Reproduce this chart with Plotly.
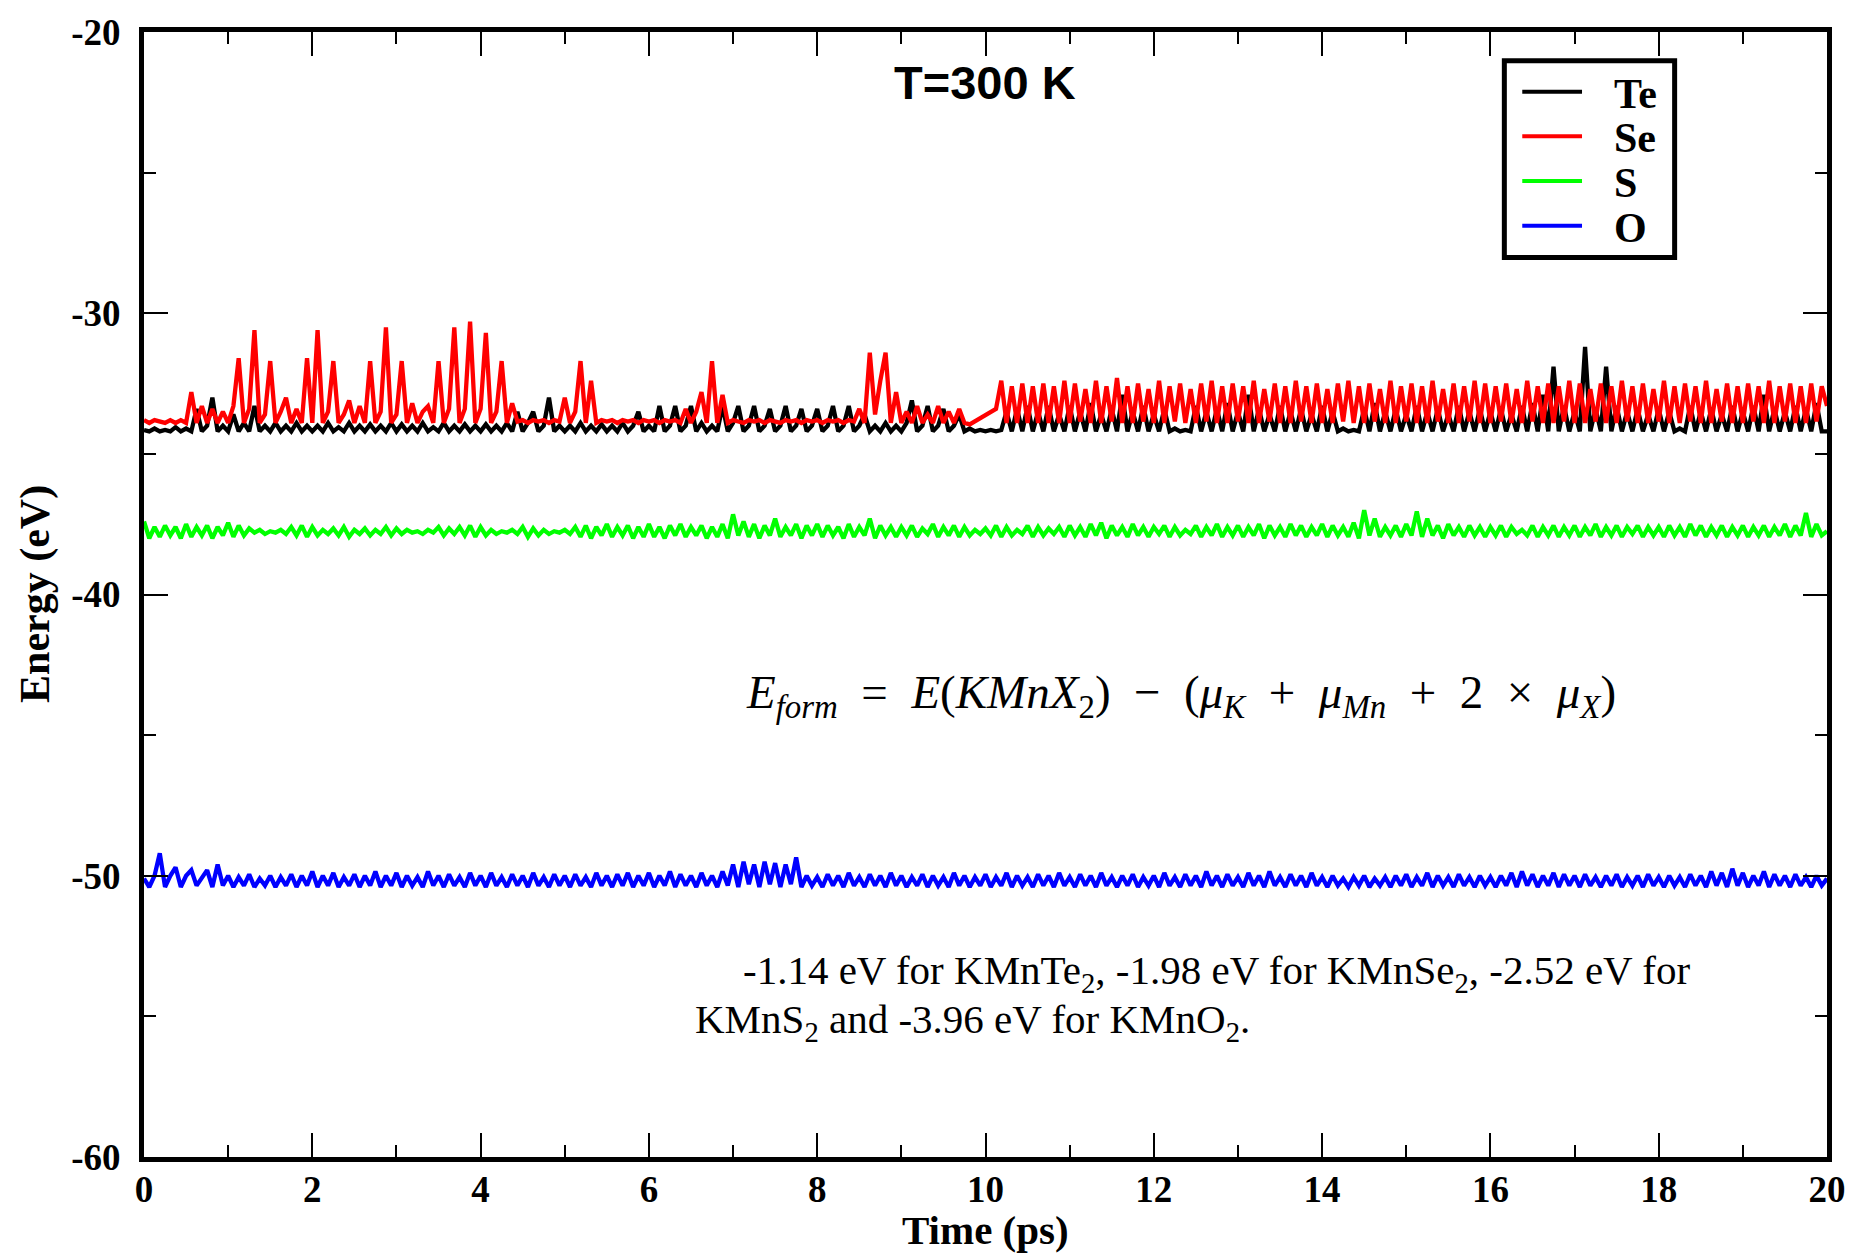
import plotly.graph_objects as go

DT = 0.0625  # ps between samples

SERIES_NAMES = ["Te", "Se", "S", "O"]
SERIES_COLORS = ["#000000", "#ff0000", "#00ff00", "#0000ff"]

# Energies (eV), one row per picosecond (16 samples each)
te_energy = [
    -34.15, -34.2, -34.1, -34.2, -34.15, -34.2, -34.05, -34.2, -34.1, -34.2, -33.4, -34.2, -34.0, -33.0, -34.2, -34.0,
    -34.2, -33.6, -34.2, -33.9, -34.2, -33.3, -34.2, -34.0, -34.2, -33.9, -34.2, -34.0, -34.2, -33.9, -34.2, -34.0,
    -34.2, -34.0, -34.2, -33.9, -34.2, -34.05, -34.2, -33.9, -34.2, -34.0, -34.2, -33.95, -34.2, -34.0, -34.2, -33.9,
    -34.2, -33.95, -34.2, -34.0, -34.2, -33.9, -34.2, -34.05, -34.2, -33.9, -34.2, -34.0, -34.2, -33.95, -34.2, -34.0,
    -34.2, -33.95, -34.2, -34.0, -34.2, -33.9, -34.2, -33.5, -34.2, -33.9, -33.5, -34.2, -34.0, -33.0, -34.2, -34.0,
    -34.2, -34.0, -34.2, -33.9, -34.2, -34.0, -34.2, -33.95, -34.2, -34.0, -34.2, -33.9, -34.2, -34.0, -33.5, -34.2,
    -34.0, -34.2, -33.3, -34.2, -34.0, -33.3, -34.2, -34.0, -33.3, -34.2, -33.9, -34.2, -34.0, -34.2, -33.3, -34.2,
    -33.9, -33.3, -34.2, -34.0, -33.3, -34.2, -34.0, -33.4, -34.2, -34.0, -33.3, -34.2, -34.0, -33.4, -34.2, -34.0,
    -33.4, -34.2, -34.0, -33.3, -34.2, -34.0, -33.3, -34.2, -34.0, -33.6, -34.2, -34.0, -34.2, -33.9, -34.2, -34.0,
    -34.2, -33.9, -33.1, -34.2, -34.0, -33.3, -34.2, -34.0, -33.4, -34.2, -34.0, -33.6, -34.2, -34.1, -34.2, -34.15,
    -34.2, -34.15, -34.2, -34.15, -33.5, -34.2, -33.4, -34.2, -33.3, -34.2, -33.5, -34.2, -33.3, -34.2, -33.6, -34.2,
    -33.3, -34.2, -33.5, -34.2, -33.2, -34.2, -33.6, -34.2, -33.4, -34.2, -32.9, -34.2, -33.5, -34.2, -33.3, -34.2,
    -33.6, -34.2, -33.4, -34.2, -34.1, -34.2, -34.15, -34.2, -33.3, -34.2, -33.5, -34.2, -33.4, -34.2, -33.2, -34.2,
    -33.5, -34.2, -32.9, -34.2, -33.4, -34.2, -33.6, -34.2, -33.3, -34.2, -33.5, -34.2, -33.4, -34.2, -33.6, -34.2,
    -33.3, -34.2, -33.5, -34.2, -34.1, -34.2, -34.15, -34.2, -33.4, -34.2, -33.2, -34.2, -33.5, -34.2, -33.4, -34.2,
    -33.6, -34.2, -33.3, -34.2, -33.5, -34.2, -33.4, -34.2, -33.6, -34.2, -33.3, -34.2, -33.5, -34.2, -33.4, -34.2,
    -33.5, -34.2, -33.4, -34.2, -33.6, -34.2, -33.3, -34.2, -33.2, -34.2, -32.9, -34.2, -31.9, -34.2, -33.3, -34.2,
    -33.5, -34.2, -31.2, -34.2, -33.4, -34.2, -31.9, -34.2, -33.3, -34.2, -33.5, -34.2, -33.4, -34.2, -33.6, -34.2,
    -33.4, -34.2, -33.5, -34.2, -34.1, -34.2, -33.3, -34.2, -33.5, -34.2, -33.4, -34.2, -33.6, -34.2, -33.3, -34.2,
    -33.5, -34.2, -33.3, -34.2, -32.9, -34.2, -33.4, -34.2, -33.5, -34.2, -33.3, -34.2, -33.4, -34.2, -33.2, -34.2,
    -34.2,
]

se_energy = [
    -33.8, -33.9, -33.8, -33.85, -33.9, -33.8, -33.9, -33.8, -33.9, -32.8, -33.9, -33.3, -33.9, -33.4, -33.9, -33.5,
    -33.9, -33.3, -31.6, -33.9, -33.4, -30.6, -33.9, -33.6, -31.7, -33.9, -33.5, -33.0, -33.9, -33.4, -33.9, -31.6,
    -33.9, -30.6, -33.9, -33.5, -31.7, -33.9, -33.6, -33.1, -33.9, -33.3, -33.9, -31.7, -33.9, -33.5, -30.5, -33.9,
    -33.6, -31.7, -33.9, -33.2, -33.9, -33.5, -33.3, -33.9, -31.7, -33.9, -33.4, -30.5, -33.9, -33.4, -30.3, -33.9,
    -33.4, -30.7, -33.9, -33.5, -31.7, -33.9, -33.2, -33.85, -33.8, -33.9, -33.8, -33.85, -33.8, -33.9, -33.8, -33.85,
    -33.0, -33.9, -33.5, -31.7, -33.9, -32.4, -33.9, -33.8, -33.85, -33.8, -33.9, -33.8, -33.85, -33.8, -33.9, -33.8,
    -33.85, -33.8, -33.9, -33.8, -33.85, -33.8, -33.9, -33.4, -33.9, -33.5, -32.8, -33.9, -31.7, -33.9, -32.9, -33.9,
    -33.8, -33.85, -33.9, -33.8, -33.85, -33.8, -33.9, -33.8, -33.85, -33.9, -33.8, -33.85, -33.8, -33.9, -33.8, -33.85,
    -33.8, -33.9, -33.8, -33.85, -33.8, -33.9, -33.8, -33.85, -33.4, -33.9, -31.4, -33.6, -32.4, -31.4, -33.9, -32.8,
    -33.9, -33.5, -33.9, -33.3, -33.9, -33.6, -33.9, -33.3, -33.9, -33.5, -33.9, -33.4, -33.9, -33.95, None, None,
    None, None, -33.4, -32.4, -33.9, -32.6, -33.9, -32.5, -33.9, -32.6, -33.9, -32.5, -33.9, -32.6, -33.9, -32.4,
    -33.9, -32.5, -33.85, -32.7, -33.9, -32.4, -33.9, -32.6, -33.85, -32.3, -33.9, -32.6, -33.9, -32.5, -33.85, -32.7,
    -33.9, -32.4, -33.9, -32.6, -33.85, -32.5, -33.9, -32.7, -33.9, -32.5, -33.85, -32.4, -33.9, -32.6, -33.9, -32.5,
    -33.85, -32.6, -33.9, -32.4, -33.9, -32.7, -33.85, -32.5, -33.9, -32.6, -33.9, -32.4, -33.85, -32.6, -33.9, -32.5,
    -33.9, -32.7, -33.9, -32.5, -33.85, -32.4, -33.9, -32.6, -33.9, -32.5, -33.85, -32.7, -33.9, -32.4, -33.9, -32.6,
    -33.85, -32.5, -33.9, -32.6, -33.9, -32.4, -33.85, -32.7, -33.9, -32.5, -33.9, -32.6, -33.85, -32.4, -33.9, -32.5,
    -33.9, -32.6, -33.85, -32.5, -33.9, -32.7, -33.9, -32.4, -33.85, -32.6, -33.9, -32.5, -33.9, -32.6, -33.85, -32.4,
    -33.9, -32.5, -33.9, -32.7, -33.85, -32.5, -33.9, -32.6, -33.9, -32.4, -33.85, -32.6, -33.9, -32.5, -33.9, -32.7,
    -33.85, -32.4, -33.9, -32.6, -33.9, -32.5, -33.85, -32.6, -33.9, -32.4, -33.9, -32.7, -33.85, -32.5, -33.9, -32.6,
    -33.9, -32.5, -33.85, -32.6, -33.9, -32.4, -33.9, -32.6, -33.85, -32.5, -33.9, -32.6, -33.9, -32.5, -33.85, -32.6,
    -33.3,
]

s_energy = [
    -37.4, -38.0, -37.6, -37.95, -37.55, -37.9, -37.6, -38.0, -37.5, -37.95, -37.6, -37.9, -37.55, -38.0, -37.6, -37.9,
    -37.45, -37.95, -37.55, -37.9, -37.65, -37.8, -37.7, -37.85, -37.75, -37.8, -37.7, -37.85, -37.6, -37.9, -37.55, -37.95,
    -37.6, -37.9, -37.7, -37.85, -37.65, -37.9, -37.6, -37.95, -37.7, -37.85, -37.65, -37.9, -37.7, -37.85, -37.6, -37.9,
    -37.65, -37.85, -37.7, -37.8, -37.75, -37.85, -37.7, -37.8, -37.6, -37.9, -37.65, -37.85, -37.6, -37.9, -37.55, -37.95,
    -37.6, -37.9, -37.7, -37.85, -37.75, -37.8, -37.7, -37.85, -37.6, -37.95, -37.65, -37.9, -37.7, -37.85, -37.75, -37.8,
    -37.7, -37.85, -37.6, -37.95, -37.55, -38.0, -37.6, -37.9, -37.5, -37.95, -37.6, -37.9, -37.55, -38.0, -37.6, -37.95,
    -37.5, -37.95, -37.6, -38.0, -37.55, -37.9, -37.5, -37.95, -37.6, -37.9, -37.55, -38.0, -37.6, -37.95, -37.5, -38.0,
    -37.15, -37.9, -37.4, -37.95, -37.5, -38.0, -37.55, -37.9, -37.3, -37.95, -37.6, -37.9, -37.5, -38.0, -37.55, -37.9,
    -37.5, -37.95, -37.55, -37.9, -37.6, -38.0, -37.5, -37.95, -37.6, -37.9, -37.3, -38.0, -37.55, -37.9, -37.6, -37.95,
    -37.6, -37.9, -37.55, -37.95, -37.65, -37.85, -37.5, -37.95, -37.6, -37.9, -37.55, -37.95, -37.6, -37.9, -37.7, -37.85,
    -37.65, -37.9, -37.55, -37.95, -37.6, -37.9, -37.7, -37.85, -37.55, -37.95, -37.6, -37.9, -37.65, -37.85, -37.6, -37.95,
    -37.55, -37.9, -37.6, -37.95, -37.5, -37.9, -37.45, -38.0, -37.55, -37.9, -37.6, -37.95, -37.5, -37.9, -37.6, -37.95,
    -37.6, -37.85, -37.55, -37.95, -37.6, -37.9, -37.7, -37.85, -37.55, -37.95, -37.6, -37.9, -37.5, -37.95, -37.6, -37.9,
    -37.55, -37.95, -37.6, -37.9, -37.5, -38.0, -37.55, -37.9, -37.6, -37.95, -37.5, -37.9, -37.55, -37.95, -37.6, -37.9,
    -37.5, -37.95, -37.55, -37.9, -37.6, -37.95, -37.45, -38.0, -37.0, -37.9, -37.3, -37.95, -37.6, -37.9, -37.55, -37.95,
    -37.5, -37.9, -37.05, -37.95, -37.3, -37.9, -37.55, -38.0, -37.5, -37.9, -37.6, -37.95, -37.55, -37.9, -37.6, -37.95,
    -37.6, -37.9, -37.55, -37.95, -37.6, -37.85, -37.7, -37.9, -37.55, -37.95, -37.6, -37.9, -37.55, -37.95, -37.6, -37.9,
    -37.55, -37.95, -37.6, -37.9, -37.5, -37.95, -37.6, -37.9, -37.55, -37.95, -37.6, -37.85, -37.55, -37.95, -37.6, -37.9,
    -37.6, -37.95, -37.55, -37.9, -37.6, -37.95, -37.5, -37.9, -37.55, -37.95, -37.6, -37.9, -37.55, -37.95, -37.6, -37.9,
    -37.55, -37.95, -37.6, -37.9, -37.55, -37.95, -37.6, -37.9, -37.5, -37.95, -37.55, -37.9, -37.1, -37.95, -37.5, -37.9,
    -37.75,
]

o_energy = [
    -50.1, -50.4, -50.0, -49.2, -50.4, -50.0, -49.7, -50.4, -50.0, -49.8, -50.35, -50.05, -49.8, -50.4, -49.6, -50.35,
    -50.0, -50.4, -50.05, -50.35, -49.95, -50.4, -50.1, -50.35, -50.0, -50.4, -50.05, -50.35, -49.95, -50.4, -50.0, -50.35,
    -49.85, -50.4, -50.0, -50.35, -49.9, -50.4, -50.05, -50.35, -49.95, -50.4, -50.0, -50.35, -49.85, -50.4, -50.0, -50.35,
    -49.9, -50.4, -50.0, -50.35, -50.05, -50.4, -49.85, -50.35, -50.0, -50.4, -49.95, -50.35, -50.05, -50.4, -49.9, -50.35,
    -50.0, -50.4, -49.9, -50.35, -50.05, -50.4, -49.95, -50.35, -50.0, -50.4, -49.9, -50.35, -50.05, -50.4, -49.95, -50.35,
    -50.0, -50.4, -49.95, -50.35, -50.05, -50.4, -49.9, -50.35, -50.0, -50.4, -49.95, -50.35, -49.9, -50.4, -50.0, -50.35,
    -49.9, -50.4, -50.0, -50.35, -49.85, -50.4, -49.95, -50.35, -50.0, -50.4, -49.9, -50.35, -50.0, -50.4, -49.85, -50.35,
    -49.6, -50.4, -49.5, -50.3, -49.6, -50.4, -49.5, -50.3, -49.55, -50.4, -49.6, -50.3, -49.35, -50.4, -50.0, -50.35,
    -50.05, -50.4, -49.95, -50.35, -50.0, -50.4, -49.9, -50.35, -50.05, -50.4, -49.95, -50.35, -50.0, -50.4, -49.9, -50.35,
    -50.0, -50.4, -50.05, -50.35, -49.95, -50.4, -50.0, -50.35, -50.05, -50.4, -49.9, -50.35, -50.0, -50.4, -50.05, -50.35,
    -49.95, -50.4, -50.05, -50.35, -49.9, -50.4, -50.0, -50.35, -50.05, -50.4, -49.95, -50.35, -50.0, -50.4, -49.9, -50.35,
    -50.05, -50.4, -49.95, -50.35, -50.0, -50.4, -49.9, -50.35, -50.05, -50.4, -50.0, -50.35, -49.95, -50.4, -50.05, -50.35,
    -50.0, -50.4, -49.9, -50.35, -50.05, -50.4, -49.95, -50.35, -50.0, -50.4, -49.85, -50.35, -50.0, -50.4, -49.95, -50.35,
    -50.05, -50.4, -49.9, -50.35, -50.0, -50.4, -49.85, -50.35, -50.05, -50.4, -49.95, -50.35, -50.0, -50.4, -49.9, -50.35,
    -50.05, -50.4, -50.0, -50.35, -50.1, -50.4, -50.05, -50.35, -50.0, -50.4, -50.1, -50.35, -50.05, -50.4, -50.0, -50.35,
    -49.95, -50.4, -50.05, -50.35, -49.9, -50.4, -50.0, -50.35, -50.05, -50.4, -49.95, -50.35, -50.05, -50.4, -50.0, -50.35,
    -50.05, -50.4, -50.0, -50.35, -49.9, -50.4, -49.85, -50.35, -49.95, -50.4, -50.0, -50.35, -49.9, -50.4, -49.95, -50.35,
    -50.0, -50.4, -49.95, -50.35, -50.05, -50.4, -50.0, -50.35, -49.95, -50.4, -50.05, -50.35, -50.0, -50.4, -49.95, -50.35,
    -50.05, -50.4, -50.0, -50.35, -50.05, -50.4, -49.95, -50.35, -50.0, -50.4, -49.85, -50.35, -49.9, -50.4, -49.75, -50.35,
    -49.9, -50.4, -50.0, -50.35, -49.85, -50.4, -49.95, -50.35, -50.0, -50.4, -49.95, -50.35, -50.05, -50.4, -50.0, -50.35,
    -50.1,
]

X_TICKS = [0, 2, 4, 6, 8, 10, 12, 14, 16, 18, 20]
X_TICK_LABELS = ["0", "2", "4", "6", "8", "10", "12", "14", "16", "18", "20"]
Y_TICKS = [-60, -50, -40, -30, -20]
Y_TICK_LABELS = ["-60", "-50", "-40", "-30", "-20"]

SERIF = "Liberation Serif"
SANS = "Liberation Sans"

# plot-area geometry in pixels (used to place paper-anchored decorations)
FIG_W, FIG_H = 1858, 1256
M_L, M_R, M_T, M_B = 144, 24, 25, 99
PLOT_W = FIG_W - M_L - M_R
PLOT_H = FIG_H - M_T - M_B


def px(xp):
    return (xp - M_L) / PLOT_W


def py(yp):
    return (FIG_H - M_B - yp) / PLOT_H


fig = go.Figure()
for name, color, ys in zip(SERIES_NAMES, SERIES_COLORS, [te_energy, se_energy, s_energy, o_energy]):
    times = [round(i * DT, 4) for i in range(len(ys))]
    fig.add_trace(go.Scatter(
        x=times, y=ys, mode="lines", name=name, connectgaps=True,
        line=dict(color=color, width=4.3), showlegend=False,
    ))

axis_common = dict(
    showline=True, linecolor="black", linewidth=5, mirror="ticks",
    ticks="inside", tickcolor="black", tickwidth=2, ticklen=24,
    showgrid=False, zeroline=False,
    tickfont=dict(family=SERIF, size=37, color="black", weight="bold"),
)

fig.update_xaxes(range=[0, 20], tickvals=X_TICKS, ticktext=X_TICK_LABELS,
                 minor=dict(ticks="inside", dtick=1, ticklen=12, tickwidth=2, tickcolor="black"),
                 ticklabelstandoff=-4,
                 **axis_common)
fig.update_yaxes(range=[-60, -20], tickvals=Y_TICKS, ticktext=Y_TICK_LABELS,
                 minor=dict(ticks="inside", dtick=5, ticklen=12, tickwidth=2, tickcolor="black"),
                 ticklabelstandoff=11,
                 **axis_common)

NB = "\u00a0"
formula = (
    f"<i>E</i><sub><i>form</i></sub>{NB} = {NB}<i>E</i>(<i>KMnX</i><sub>2</sub>){NB} − {NB}"
    f"(<i>μ</i><sub><i>K</i></sub>{NB} + {NB}<i>μ</i><sub><i>Mn</i></sub>{NB} + {NB}2{NB} × {NB}"
    f"<i>μ</i><sub><i>X</i></sub>)"
)

annotations = [
    dict(text="Energy (eV)", x=px(35), y=py(590), xref="paper", yref="paper", textangle=-90,
         showarrow=False, font=dict(family=SERIF, size=42, color="black", weight="bold"),
         xanchor="center", yanchor="middle"),
    dict(text="Time (ps)", x=px(989), y=py(1230), xref="paper", yref="paper",
         showarrow=False, font=dict(family=SERIF, size=41, color="black", weight="bold"),
         xanchor="center", yanchor="middle"),
    dict(text="T=300 K", x=px(988), y=py(76), xref="paper", yref="paper",
         showarrow=False, font=dict(family=SANS, size=47, color="black", weight="bold"),
         xanchor="center", yanchor="middle"),
    dict(text=formula, x=px(1185), y=py(693), xref="paper", yref="paper",
         showarrow=False, font=dict(family=SERIF, size=47, color="black"),
         xanchor="center", yanchor="middle"),
    dict(text="-1.14 eV for KMnTe<sub>2</sub>, -1.98 eV for KMnSe<sub>2</sub>, -2.52 eV for",
         x=px(743), y=py(972), xref="paper", yref="paper",
         showarrow=False, font=dict(family=SERIF, size=41, color="black"),
         xanchor="left", yanchor="middle"),
    dict(text="KMnS<sub>2</sub> and -3.96 eV for KMnO<sub>2</sub>.",
         x=px(695), y=py(1021), xref="paper", yref="paper",
         showarrow=False, font=dict(family=SERIF, size=41, color="black"),
         xanchor="left", yanchor="middle"),
]

# hand-drawn legend box (matches the boxed legend of the original)
LEG_ROWS_Y = [85, 130, 175, 220]
shapes = [
    dict(type="rect", xref="paper", yref="paper", x0=px(1510), x1=px(1681), y0=py(252), y1=py(54),
         line=dict(color="black", width=5), fillcolor="white", layer="above"),
]
for name, color, yrow in zip(SERIES_NAMES, SERIES_COLORS, LEG_ROWS_Y):
    shapes.append(dict(type="line", xref="paper", yref="paper", x0=px(1528), x1=px(1588),
                       y0=py(yrow), y1=py(yrow), line=dict(color=color, width=4), layer="above"))
    annotations.append(dict(text=name, x=px(1618), y=py(yrow + 2), xref="paper", yref="paper",
                            showarrow=False, xanchor="left", yanchor="middle",
                            font=dict(family=SERIF, size=42, color="black", weight="bold")))

fig.update_layout(
    width=FIG_W, height=FIG_H,
    margin=dict(l=M_L, r=M_R, t=M_T, b=M_B),
    paper_bgcolor="white", plot_bgcolor="white",
    showlegend=False,
    annotations=annotations,
    shapes=shapes,
)

fig.write_html("out.html")
